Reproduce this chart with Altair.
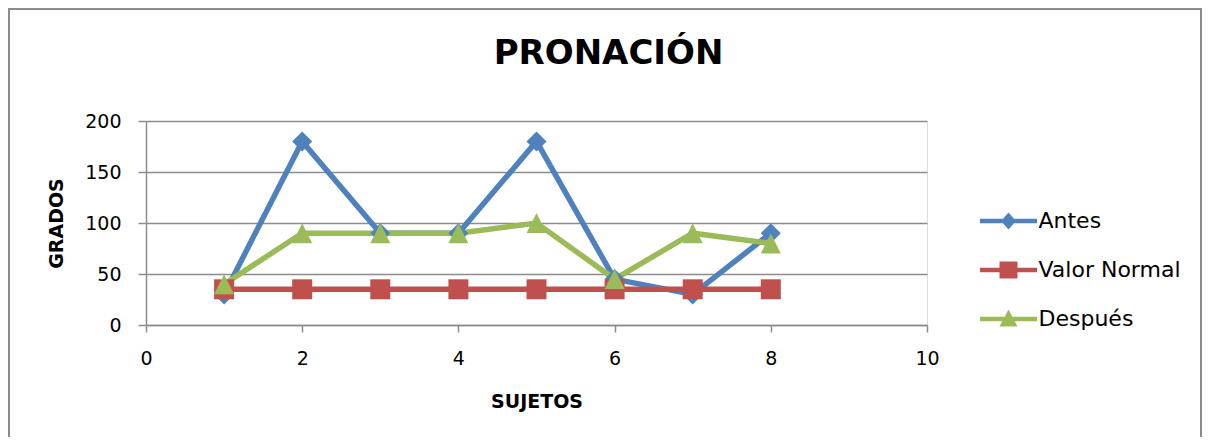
import altair as alt
import pandas as pd

sujetos = [1, 2, 3, 4, 5, 6, 7, 8]
antes = [30, 180, 90, 90, 180, 45, 30, 90]
valor_normal = [35, 35, 35, 35, 35, 35, 35, 35]
despues = [40, 90, 90, 90, 100, 45, 90, 80]
series = ["Antes", "Valor Normal", "Después"]
colors = ["#4F81BD", "#C0504D", "#9BBB59"]
x_ticks = [0, 2, 4, 6, 8, 10]
y_ticks = [0, 50, 100, 150, 200]

rows = []
for k, (name, vals) in enumerate(zip(series, [antes, valor_normal, despues])):
    for s, v in zip(sujetos, vals):
        rows.append({"serie": name, "sujeto": s, "grados": v, "orden": k})
df = pd.DataFrame(rows)

FONT = "DejaVu Sans"
GRAY = "#8c8c8c"

plot_shapes = [
    "M0,-1L1,0L0,1L-1,0Z",
    "M-1,-1L1,-1L1,1L-1,1Z",
    "M0,-1L1,1L-1,1Z",
]
bar = "M-2.85,-0.22L2.85,-0.22L2.85,0.22L-2.85,0.22Z "
legend_shapes = [
    bar + "M0,-0.85L0.75,0L0,0.85L-0.75,0Z",
    bar + "M-0.9,-0.85L0.9,-0.85L0.9,0.85L-0.9,0.85Z",
    bar + "M0,-0.95L0.9,0.75L-0.9,0.75Z",
]

x_enc = alt.X(
    "sujeto:Q",
    scale=alt.Scale(domain=[0, 10], nice=False, zero=False),
    axis=alt.Axis(
        values=x_ticks, title="SUJETOS", grid=False, tickSize=7, labelPadding=17,
        labelFlush=False,
        labelFont=FONT, labelFontSize=19, labelColor="black",
        domainColor=GRAY, tickColor=GRAY, domainWidth=1.5, tickWidth=1.5,
        titleFont=FONT, titleFontSize=19, titleFontWeight="bold", titleColor="black",
        titleX=390.5, titleY=76, titleBaseline="middle", titleAlign="center",
    ),
)
y_enc = alt.Y(
    "grados:Q",
    scale=alt.Scale(domain=[0, 200], nice=False),
    axis=alt.Axis(
        values=y_ticks, title="GRADOS", grid=True, gridColor=GRAY, gridWidth=1.5,
        tickSize=8, labelPadding=17, labelFlush=False,
        labelFont=FONT, labelFontSize=19, labelColor="black",
        domainColor=GRAY, tickColor=GRAY, domainWidth=1.5, tickWidth=1.5,
        titleFont=FONT, titleFontSize=19, titleFontWeight="bold", titleColor="black",
        titleAngle=-90, titleX=-90, titleY=102, titleBaseline="middle", titleAlign="center",
    ),
)

color_scale = alt.Scale(domain=series, range=colors)

border = alt.Chart(pd.DataFrame({"a": [0]})).mark_rect(
    fillOpacity=0, stroke=GRAY, strokeWidth=2
).encode(
    x=alt.value(-137), x2=alt.value(1055), y=alt.value(-112), y2=alt.value(500)
)

lines = alt.Chart(df).mark_line(strokeWidth=5.5).encode(
    x=x_enc, y=y_enc,
    color=alt.Color("serie:N", scale=color_scale, legend=None),
    detail="serie:N",
)

points = alt.Chart(df).mark_point(filled=True, size=400, opacity=1).encode(
    x=x_enc, y=y_enc,
    color=alt.Color("serie:N", scale=color_scale, legend=None),
    shape=alt.Shape("serie:N", scale=alt.Scale(domain=series, range=plot_shapes), legend=None),
    order="orden:Q",
)

legend_layer = alt.Chart(df).transform_filter("datum.grados < -1000").mark_point(
    filled=True, opacity=1
).encode(
    x=x_enc, y=y_enc,
    color=alt.Color("serie:N", scale=color_scale, legend=alt.Legend(title=None)),
    shape=alt.Shape(
        "serie:N",
        scale=alt.Scale(domain=series, range=legend_shapes),
        legend=alt.Legend(
            title=None, orient="none", legendX=851.5, legendY=89, symbolSize=400,
            labelFont=FONT, labelFontSize=22, labelColor="black", labelOffset=19,
            labelLimit=300, rowPadding=27, padding=0, symbolStrokeWidth=0,
            symbolOpacity=1,
        ),
    ),
)

chart = alt.layer(border, lines, points, legend_layer).resolve_scale(
    shape="independent", color="independent"
).properties(
    width=781,
    height=204,
    padding={"left": 138, "top": 113, "right": 275, "bottom": 112},
    autosize=alt.AutoSizeParams(type="none"),
    title=alt.TitleParams(
        text="PRONACIÓN", font=FONT, fontSize=34, fontWeight="bold", color="black",
        anchor="middle", dx=72, dy=100, baseline="alphabetic", offset=10,
    ),
).configure_view(stroke=None).configure(background="white")

chart.save("out.html", embed_options={"renderer": "svg", "actions": False})
